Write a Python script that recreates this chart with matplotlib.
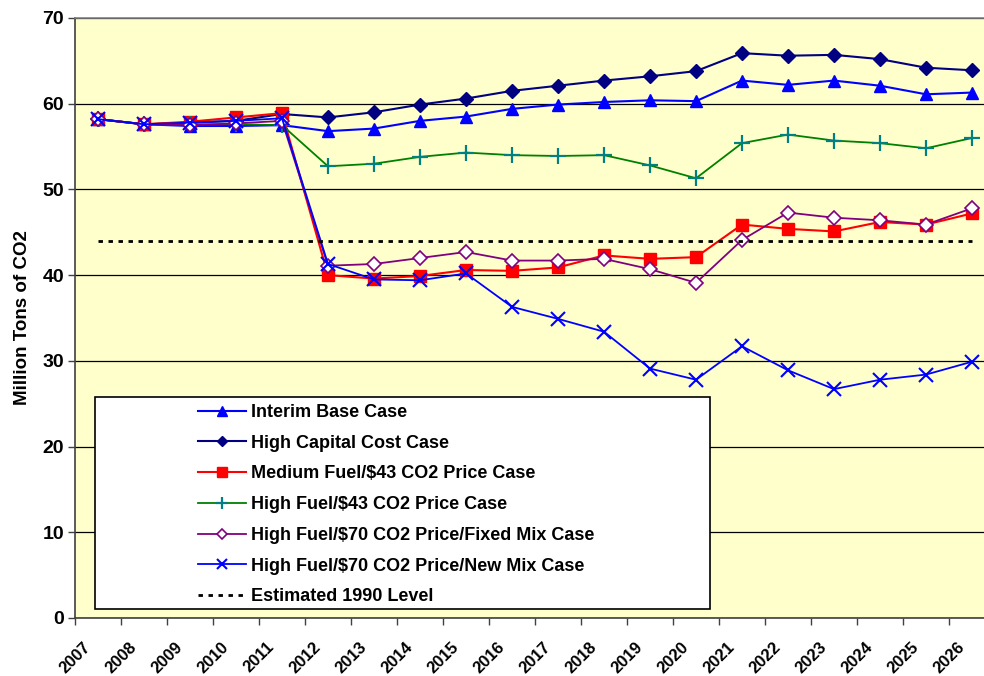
import matplotlib
matplotlib.use("Agg")
import matplotlib.pyplot as plt
from matplotlib.patches import Rectangle
from matplotlib.transforms import ScaledTranslation
import numpy as np

plt.rcParams['font.family'] = ['Liberation Sans', 'DejaVu Sans']

years = [str(y) for y in range(2007, 2027)]
interim_base = [58.2, 57.6, 57.4, 57.4, 57.5, 56.8, 57.1, 58.0, 58.5, 59.4, 59.9, 60.2, 60.4, 60.3, 62.7, 62.2, 62.7, 62.1, 61.1, 61.3]
high_capital = [58.2, 57.6, 57.8, 58.0, 58.8, 58.4, 59.0, 59.9, 60.6, 61.5, 62.1, 62.7, 63.2, 63.8, 65.9, 65.6, 65.7, 65.2, 64.2, 63.9]
med_fuel_43 = [58.2, 57.6, 57.9, 58.4, 58.9, 40.0, 39.6, 39.9, 40.6, 40.5, 40.9, 42.3, 41.9, 42.1, 45.9, 45.4, 45.1, 46.2, 45.9, 47.2]
high_fuel_43 = [58.2, 57.6, 57.6, 57.6, 57.5, 52.7, 53.0, 53.8, 54.3, 54.0, 53.9, 54.0, 52.8, 51.3, 55.4, 56.4, 55.7, 55.4, 54.8, 56.0]
high_fuel_70_fixed = [58.2, 57.6, 57.5, 57.7, 58.0, 41.1, 41.3, 42.0, 42.7, 41.7, 41.7, 41.9, 40.7, 39.1, 44.1, 47.3, 46.7, 46.4, 45.9, 47.8]
high_fuel_70_new = [58.2, 57.6, 57.8, 58.0, 58.3, 41.3, 39.5, 39.4, 40.2, 36.3, 34.9, 33.4, 29.1, 27.8, 31.7, 28.9, 26.7, 27.8, 28.4, 29.9]
level_1990 = [44.0] * len(years)

labels = ["Interim Base Case", "High Capital Cost Case", "Medium Fuel/$43 CO2 Price Case",
          "High Fuel/$43 CO2 Price Case", "High Fuel/$70 CO2 Price/Fixed Mix Case",
          "High Fuel/$70 CO2 Price/New Mix Case", "Estimated 1990 Level"]

W, H = 984, 676
fig = plt.figure(figsize=(W / 100, H / 100), dpi=100)
L, R, T, B = 75, 995, 18, 618
ax = fig.add_axes([L / W, 1 - B / H, (R - L) / W, (B - T) / H])
ax.set_facecolor('#FFFFCC')

x = np.arange(len(years))
ms = 7
h1, = ax.plot(x, interim_base, color='#0000FF', lw=1.5, marker='^', ms=ms + 2, mfc='#0000FF', mec='#0000FF', label=labels[0], zorder=3)
h2, = ax.plot(x, high_capital, color='#000080', lw=1.5, marker='D', ms=ms, mfc='#000080', mec='#000080', label=labels[1], zorder=3)
h3, = ax.plot(x, med_fuel_43, color='#FF0000', lw=1.5, marker='s', ms=ms + 2, mfc='#FF0000', mec='#FF0000', label=labels[2], zorder=3)
h4, = ax.plot(x, high_fuel_43, color='#008000', lw=1.3, marker='+', ms=ms + 4, mew=1.6, mfc='#008080', mec='#008080', label=labels[3], zorder=3)
h5, = ax.plot(x, high_fuel_70_fixed, color='#800080', lw=1.3, marker='D', ms=ms, mfc='white', mec='#800080', mew=1.2, label=labels[4], zorder=3)
h6, = ax.plot(x, high_fuel_70_new, color='#0000FF', lw=1.3, marker='x', ms=ms + 3, mew=1.5, mfc='#0000FF', mec='#0000FF', label=labels[5], zorder=3)
h7, = ax.plot(x, level_1990, color='black', lw=2, linestyle=(0, (1.6, 2.0)), label=labels[6], zorder=3)

ax.set_xlim(-0.5, len(years) - 0.5)
ax.set_ylim(0, 70)
ax.set_yticks(range(0, 71, 10))
ax.yaxis.grid(True, color='black', lw=0.9)
ax.set_axisbelow(True)
ax.set_yticklabels([str(v) for v in range(0, 71, 10)], fontsize=14, fontweight='bold')
ax.tick_params(axis='y', length=5, width=1, color='#404040', pad=3)

ax.set_xticks(x)
ax.set_xticklabels(years, rotation=45, ha='right', va='center', rotation_mode='anchor', fontsize=12, fontweight='bold')
ax.tick_params(axis='x', which='major', length=0, pad=19)
off = ScaledTranslation(-10 / 100, 0, fig.dpi_scale_trans)
for lab in ax.get_xticklabels():
    lab.set_transform(lab.get_transform() + off)
ax.set_xticks(np.arange(-0.5, len(years), 1.0), minor=True)
ax.tick_params(axis='x', which='minor', length=5, width=1, color='#404040')

for s in ['left', 'bottom']:
    ax.spines[s].set_color('#404040')
    ax.spines[s].set_linewidth(1.2)
ax.spines['top'].set_color('#808080')
ax.spines['top'].set_linewidth(1.2)
ax.spines['right'].set_visible(False)

ax.set_ylabel("Million Tons of CO2", fontsize=13.5, fontweight='bold', labelpad=8)

# legend box
def ax_frac(px, py):
    return ((px - L) / (R - L), (B - py) / (B - T))

x0, y0 = ax_frac(95, 609)
x1, y1 = ax_frac(710, 397)
ax.add_patch(Rectangle((x0, y0), x1 - x0, y1 - y0, transform=ax.transAxes,
                       facecolor='white', edgecolor='black', lw=1.2, zorder=4))
lx, ly = ax_frac(198, 404)
leg = ax.legend(handles=[h1, h2, h3, h4, h5, h6, h7], loc='upper left', bbox_to_anchor=(lx, ly),
                frameon=False, borderpad=0, borderaxespad=0, fontsize=13,
                handlelength=2.66, handletextpad=0.28, labelspacing=0.76, markerscale=0.75)
leg.set_zorder(5)
for t in leg.get_texts():
    t.set_fontweight('bold')

fig.savefig('out.png', dpi=100, facecolor='white')
